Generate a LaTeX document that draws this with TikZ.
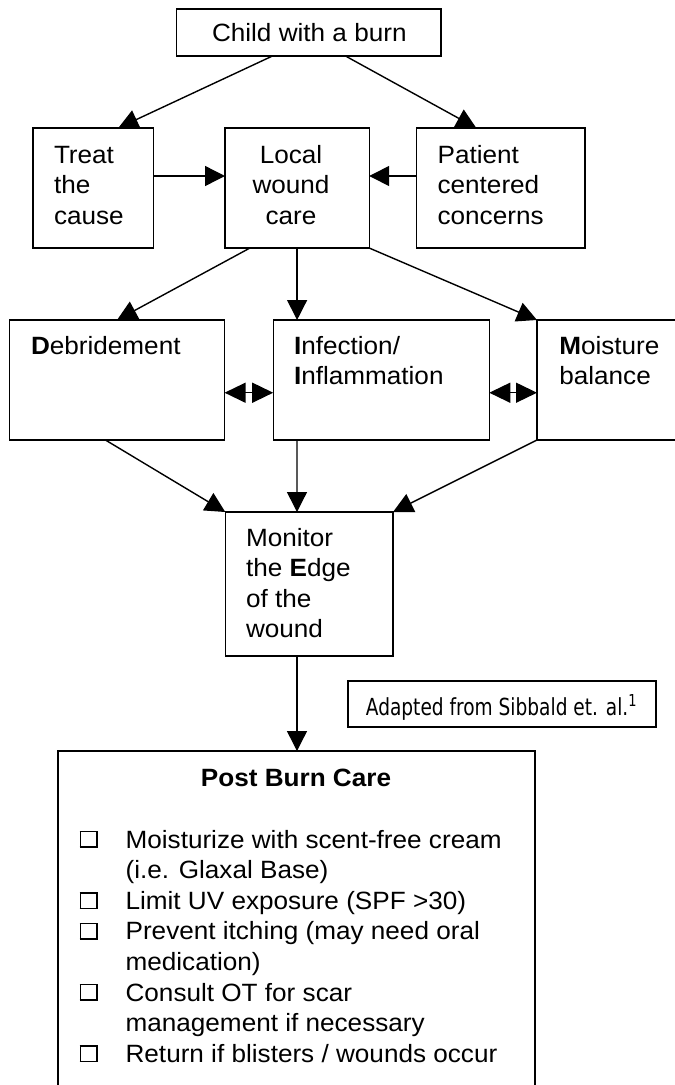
\documentclass[tikz,border=0pt]{standalone}
\usepackage{fontspec}
\setmainfont{Liberation Sans}[FakeStretch=1.045]
\newfontfamily\adaptfont{DejaVu Sans}[FakeStretch=0.79]
\usetikzlibrary{arrows.meta,calc}
\newcommand\chkbox{\raisebox{1.6pt}{\setlength\fboxsep{0pt}\setlength\fboxrule{1.6pt}\fbox{\rule{0pt}{14pt}\rule{15pt}{0pt}}}}
\newcommand\tl[1]{\begin{tabular}[t]{@{}l@{}}#1\end{tabular}}
\newcommand\tc[1]{\begin{tabular}[t]{@{}c@{}}#1\end{tabular}}
\begin{document}
\begin{tikzpicture}[x=1pt,y=-1pt,
  box/.style={draw, line width=1.4pt, inner sep=0pt, outer sep=0pt},
  txt/.style={font=\fontsize{25}{30.6}\selectfont, inner sep=0pt, outer sep=0pt},
  arr/.style={line width=1.4pt, -{Triangle[length=20pt,width=20pt]}},
  dbl/.style={line width=1.4pt, {Triangle[length=21pt,width=20pt]}-{Triangle[length=21pt,width=20pt]}},
  plain/.style={line width=1.4pt}]
\useasboundingbox (0,0) rectangle (675,1085);
\clip (0,0) rectangle (675,1085);
\fill[white] (0,0) rectangle (675,1085);

% boxes
\node[box, minimum width=264.6pt, minimum height=47pt] (top) at (308.7,32.5) {};
\node[box, minimum width=120.6pt, minimum height=120pt] (treat) at (93.3,188) {};
\node[box, minimum width=144.2pt, minimum height=120pt] (local) at (297.1,188) {};
\node[box, minimum width=168.5pt, minimum height=120pt] (patient) at (500.75,188) {};
\node[box, minimum width=215.1pt, minimum height=120pt] (debr) at (117.05,380) {};
\node[box, minimum width=216.1pt, minimum height=120pt] (infl) at (381.25,380) {};
\node[box, minimum width=216pt, minimum height=120pt] (moist) at (645,380) {};
\node[box, minimum width=167.7pt, minimum height=144pt] (monitor) at (309.15,584) {};
\node[box, minimum width=308pt, minimum height=46pt] (src) at (502,704) {};
\node[box, minimum width=477pt, minimum height=359pt] (post) at (296.5,930.5) {};

% texts
\node[txt, anchor=base] (toptxt) at (309.3,41.7) {Child with a burn};
\node[txt, anchor=base west] (treattxt) at (54,163) {\tl{Treat\\the\\cause}};
\node[txt, anchor=base] (localtxt) at (291,163.3) {\tc{Local\\wound\\care}};
\node[txt, anchor=base west] (patienttxt) at (437.6,163) {\tl{Patient\\centered\\concerns}};
\node[txt, anchor=base west] (debrtxt) at (31,354) {\textbf{D}ebridement};
\node[txt, anchor=base west] (infltxt) at (294,354) {\tl{\textbf{I}nfection/\\\textbf{I}nflammation}};
\node[txt, anchor=base west] (moisttxt) at (559.3,354.3) {\tl{\textbf{M}oisture\\balance}};
\node[txt, anchor=base west] (montxt) at (246,546) {\tl{Monitor\\the \textbf{E}dge\\of the\\wound}};
\node[inner sep=0pt, anchor=base, font=\adaptfont\fontsize{23.5}{28}\selectfont] (srctxt) at (501.5,715.5) {Adapted from Sibbald et. al.\textsuperscript{1}};
\node[txt, anchor=base, font=\fontsize{25}{30.6}\selectfont\bfseries] (posttitle) at (296,786.7) {Post Burn Care};
\node[txt, anchor=base west] (list) at (79.5,848) {\begin{tabular}[t]{@{}p{46.1pt}@{}l@{}}
\chkbox & Moisturize with scent-free cream\\
 & (i.e. Glaxal Base)\\
\chkbox & Limit UV exposure (SPF >30)\\
\chkbox & Prevent itching (may need oral\\
 & medication)\\
\chkbox & Consult OT for scar\\
 & management if necessary\\
\chkbox & Return if blisters / wounds occur
\end{tabular}};

% connectors
\draw[arr] ($(top.south west)!0.363!(top.south east)$) -- ($(treat.north west)!0.707!(treat.north east)$);
\draw[arr] ($(top.south west)!0.639!(top.south east)$) -- ($(patient.north west)!0.355!(patient.north east)$);
\draw[arr] ($(treat.north east)!0.4!(treat.south east)$) -- ($(local.north west)!0.4!(local.south west)$);
\draw[arr] ($(patient.north west)!0.4!(patient.south west)$) -- ($(local.north east)!0.4!(local.south east)$);
\draw[arr] ($(local.south west)!0.173!(local.south east)$) -- (debr.north);
\draw[arr] (local.south) -- (local.south |- infl.north);
\draw[arr] (local.south east) -- (moist.north west);
\draw[dbl] ($(debr.north east)!0.606!(debr.south east)$) -- ($(infl.north west)!0.606!(infl.south west)$);
\draw[dbl] ($(infl.north east)!0.606!(infl.south east)$) -- ($(moist.north west)!0.606!(moist.south west)$);
\draw[arr] ($(debr.south west)!0.446!(debr.south east)$) -- (monitor.north west);
\draw[arr] ($(infl.south west)!0.110!(infl.south east)$) -- ($(monitor.north west)!0.4275!(monitor.north east)$);
\draw[arr] (moist.south west) -- (monitor.north east);
\draw[arr] ($(monitor.south west)!0.4275!(monitor.south east)$) coordinate (mb) -- (mb |- post.north);
\end{tikzpicture}
\end{document}
